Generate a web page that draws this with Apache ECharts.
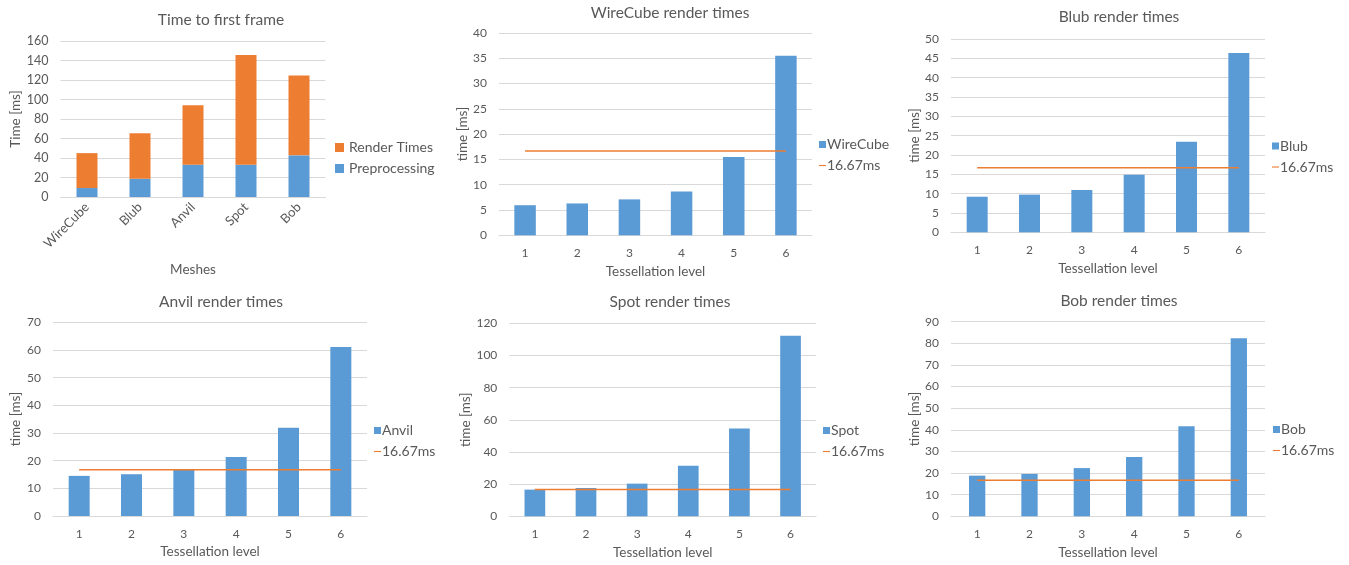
<!DOCTYPE html>
<html>
<head>
<meta charset="utf-8">
<script src="https://cdn.jsdelivr.net/npm/echarts@6/dist/echarts.min.js"></script>
<style>
html,body{margin:0;padding:0;background:#fff;}
#chart{width:1349px;height:565px;}
</style>
</head>
<body>
<div id="chart"></div>
<script>
// ---- data ----
const meshes = ['WireCube', 'Blub', 'Anvil', 'Spot', 'Bob'];
const preprocessing = [9.2, 18.8, 33.1, 33.1, 42.7];
const renderTimes = [35.8, 46.7, 61.1, 112.6, 81.9];
const levels = ['1', '2', '3', '4', '5', '6'];
const wireCubeTimes = [5.95, 6.3, 7.1, 8.65, 15.5, 35.5];
const blubTimes = [9.2, 9.75, 10.95, 14.9, 23.4, 46.4];
const anvilTimes = [14.5, 15.1, 17.0, 21.3, 31.9, 61.1];
const spotTimes = [16.6, 17.6, 20.3, 31.5, 54.6, 112.2];
const bobTimes = [18.8, 19.6, 22.3, 27.4, 41.7, 82.4];
const frameBudget = [16.67, 16.67, 16.67, 16.67, 16.67, 16.67];
const frameBudgetName = '16.67ms';
const titles = ['Time to first frame', 'WireCube render times', 'Blub render times',
                'Anvil render times', 'Spot render times', 'Bob render times'];
const yMax = [160, 40, 50, 70, 120, 90];
const yStep = [20, 5, 5, 10, 20, 10];
const panelSeries = [
  { name: 'WireCube', values: wireCubeTimes },
  { name: 'Blub', values: blubTimes },
  { name: 'Anvil', values: anvilTimes },
  { name: 'Spot', values: spotTimes },
  { name: 'Bob', values: bobTimes }
];

// ---- layout / style ----
const FONT = 'Lato, "Liberation Sans", sans-serif';
const TXT = '#595959';
const GRIDC = '#D9D9D9';
const BLUE = '#5B9BD5';
const ORANGE = '#ED7D31';

const grids = [
  { left: 60.5, top: 41, width: 265, height: 156 },
  { left: 499, top: 33, width: 313, height: 202.3 },
  { left: 951, top: 39, width: 314, height: 193.3 },
  { left: 53, top: 322.3, width: 314, height: 193.7 },
  { left: 509.3, top: 323.3, width: 306.8, height: 193 },
  { left: 951, top: 321.7, width: 314, height: 194.6 }
];
const titlePos = [[221, 20], [670, 12.5], [1119, 17], [221, 301.5], [670, 301.5], [1119, 300.5]];
const yNameGap = [36, 28, 28, 30, 36, 28];
const barWidths = [21, 21.5, 21, 21, 20.7, 16.3];
const legendPos = [[335, 140.5], [819, 137.5], [1272, 139], [374, 423.5], [823, 423.5], [1273, 422.5]];

const xAxes = [], yAxes = [], series = [], legends = [], graphics = [];

grids.forEach((g, i) => {
  const first = i === 0;
  xAxes.push({
    type: 'category', gridIndex: i,
    data: first ? meshes : levels,
    axisLine: { lineStyle: { color: GRIDC, width: 1 } },
    axisTick: { show: false },
    axisLabel: {
      color: TXT, fontFamily: FONT, fontSize: first ? 13 : 12,
      margin: first ? 8 : 12, rotate: first ? 45 : 0, interval: 0
    },
    name: first ? 'Meshes' : 'Tessellation level',
    nameLocation: 'middle',
    nameGap: first ? 66 : 29,
    nameTextStyle: { color: TXT, fontFamily: FONT, fontSize: 13.5 }
  });
  yAxes.push({
    type: 'value', gridIndex: i, min: 0, max: yMax[i], interval: yStep[i],
    axisLine: { show: false }, axisTick: { show: false },
    splitLine: { lineStyle: { color: GRIDC, width: 1 } },
    axisLabel: { color: TXT, fontFamily: FONT, fontSize: first ? 12.5 : 12, margin: 12 },
    name: first ? 'Time [ms]' : 'time [ms]',
    nameLocation: 'middle', nameRotate: 90, nameGap: yNameGap[i],
    nameTextStyle: { color: TXT, fontFamily: FONT, fontSize: 13.5 }
  });
  graphics.push({
    type: 'text', x: titlePos[i][0], y: titlePos[i][1],
    style: { text: titles[i], fill: TXT, font: '15.5px ' + FONT, align: 'center', verticalAlign: 'middle' }
  });
});

// panel 1: stacked
series.push({
  type: 'bar', name: 'Preprocessing', stack: 'ttff', xAxisIndex: 0, yAxisIndex: 0,
  data: preprocessing, barWidth: barWidths[0], itemStyle: { color: BLUE }
});
series.push({
  type: 'bar', name: 'Render Times', stack: 'ttff', xAxisIndex: 0, yAxisIndex: 0,
  data: renderTimes, barWidth: barWidths[0], itemStyle: { color: ORANGE }
});
legends.push({
  orient: 'vertical', left: legendPos[0][0], top: legendPos[0][1], padding: 0,
  itemWidth: 9, itemHeight: 9, itemGap: 7,
  data: [{ name: 'Render Times', icon: 'rect' }, { name: 'Preprocessing', icon: 'rect' }],
  textStyle: { color: TXT, fontFamily: FONT, fontSize: 14 }
});

panelSeries.forEach((p, k) => {
  const i = k + 1;
  series.push({
    type: 'bar', name: p.name, xAxisIndex: i, yAxisIndex: i,
    data: p.values, barWidth: barWidths[i], itemStyle: { color: BLUE }
  });
  series.push({
    type: 'line', name: frameBudgetName, xAxisIndex: i, yAxisIndex: i,
    data: frameBudget, symbol: 'none', lineStyle: { color: ORANGE, width: 1.5 },
    itemStyle: { color: ORANGE }
  });
  legends.push({
    orient: 'vertical', left: legendPos[i][0], top: legendPos[i][1], padding: 0,
    itemWidth: 7, itemHeight: 7, itemGap: 7,
    data: [{ name: p.name, icon: 'rect' }, { name: frameBudgetName, icon: 'path://M0,0H10V1.6H0Z' }],
    textStyle: { color: TXT, fontFamily: FONT, fontSize: 14, padding: [0, 0, 0, -4] }
  });
});

const chart = echarts.init(document.getElementById('chart'), null, { renderer: 'canvas' });
chart.setOption({
  animation: false,
  backgroundColor: '#fff',
  grid: grids.map(g => Object.assign({ containLabel: false }, g)),
  xAxis: xAxes, yAxis: yAxes, series: series, legend: legends,
  graphic: graphics
});
</script>
</body>
</html>
